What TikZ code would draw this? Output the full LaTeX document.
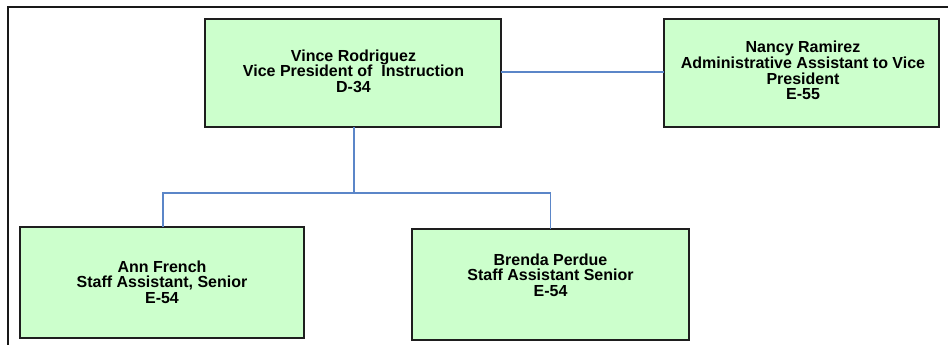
\documentclass[tikz,border=0pt]{standalone}
\usepackage{fontspec}
\setmainfont{Liberation Sans}
\definecolor{boxfill}{HTML}{CCFFCC}
\definecolor{boxline}{HTML}{1E1E1E}
\definecolor{conn}{HTML}{5B86C8}
\begin{document}
\begin{tikzpicture}[x=1pt,y=-1pt,
  box/.style={draw=boxline,fill=boxfill,line width=1.6pt,rectangle,inner sep=0pt,outer sep=0pt},
  txt/.style={align=center,inner sep=0pt,font=\fontsize{16}{15.6}\selectfont\bfseries,text=black},
  link/.style={draw=conn,line width=1.8pt}]
\useasboundingbox (0,0) rectangle (948,345);
\draw[line width=2pt,black!90] (8,345) -- (8,6.7) -- (948,6.7);
\node[box,minimum width=296pt,minimum height=108pt] (vp) at (353,73) {};
\node[box,minimum width=275pt,minimum height=108pt] (nancy) at (801.5,73) {};
\node[box,minimum width=284pt,minimum height=111pt] (ann) at (162,282.5) {};
\node[box,minimum width=277pt,minimum height=111pt] (brenda) at (550.5,284.5) {};
\node[txt] (vpT) at (353.5,71) {Vince Rodriguez\\Vice President of\ \ Instruction\\D-34};
\node[txt] (nancyT) at (803,70.5) {Nancy Ramirez\\Administrative Assistant to Vice\\President\\E-55};
\node[txt] (annT) at (162,282) {Ann French\\Staff Assistant, Senior\\E-54};
\node[txt] (brendaT) at (550.5,275) {Brenda Perdue\\Staff Assistant Senior\\E-54};
\draw[link] ([yshift=1pt]vp.east) -- ([yshift=1pt]nancy.west);
\coordinate (bar) at (354,192.7);
\draw[link] ([xshift=1pt]vp.south) -- (bar);
\draw[link] (bar) -| ([xshift=1pt]ann.north);
\draw[link] (bar) -| (brenda.north);
\end{tikzpicture}
\end{document}
